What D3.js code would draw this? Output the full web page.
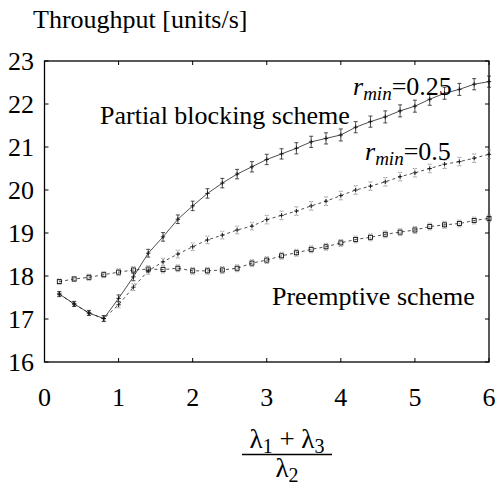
<!DOCTYPE html>
<html>
<head>
<meta charset="utf-8">
<script src="https://cdn.jsdelivr.net/npm/d3@7"></script>
<style>
  html, body { margin: 0; padding: 0; background: #fff; }
  svg { display: block; }
</style>
</head>
<body>
<svg id="chart" width="501" height="489"></svg>
<script>
// Offered load (λ1 + λ3) / λ2
const loads = [0.2, 0.4, 0.6, 0.8, 1.0, 1.2, 1.4, 1.6, 1.8, 2.0,
               2.2, 2.4, 2.6, 2.8, 3.0, 3.2, 3.4, 3.6, 3.8, 4.0,
               4.2, 4.4, 4.6, 4.8, 5.0, 5.2, 5.4, 5.6, 5.8, 6.0];

// Partial blocking scheme, r_min = 0.25 (units/s)
const partial025 = [17.58, 17.35, 17.14, 17.01, 17.48, 17.98, 18.53, 18.91, 19.32, 19.63,
                    19.92, 20.16, 20.37, 20.54, 20.71, 20.84, 20.97, 21.12, 21.20, 21.28,
                    21.46, 21.59, 21.70, 21.84, 21.95, 22.11, 22.25, 22.34, 22.46, 22.52];
const partial025Err = [0.06, 0.06, 0.06, 0.07, 0.08, 0.09, 0.09, 0.10, 0.10, 0.11,
                       0.11, 0.11, 0.11, 0.12, 0.12, 0.12, 0.13, 0.13, 0.13, 0.14,
                       0.13, 0.13, 0.14, 0.14, 0.14, 0.14, 0.14, 0.14, 0.13, 0.13];

// Partial blocking scheme, r_min = 0.5 (units/s)
const partial05 = [17.58, 17.35, 17.14, 17.01, 17.33, 17.74, 18.12, 18.33, 18.51, 18.68,
                   18.84, 18.95, 19.07, 19.16, 19.31, 19.41, 19.51, 19.63, 19.74, 19.87,
                   20.00, 20.09, 20.19, 20.31, 20.40, 20.50, 20.60, 20.66, 20.74, 20.83];
const partial05Err = [0.05, 0.05, 0.05, 0.06, 0.07, 0.08, 0.08, 0.08, 0.09, 0.09,
                      0.09, 0.09, 0.09, 0.09, 0.10, 0.10, 0.10, 0.10, 0.10, 0.10,
                      0.10, 0.10, 0.10, 0.10, 0.10, 0.10, 0.10, 0.10, 0.10, 0.10];

// Preemptive scheme (units/s)
const preemptive = [17.87, 17.93, 17.97, 18.03, 18.09, 18.14, 18.16, 18.15, 18.18, 18.12,
                    18.12, 18.14, 18.18, 18.30, 18.37, 18.47, 18.54, 18.62, 18.68, 18.77,
                    18.85, 18.90, 18.97, 19.02, 19.07, 19.15, 19.19, 19.22, 19.29, 19.34];
const preemptiveErr = [0.06, 0.06, 0.07, 0.07, 0.08, 0.08, 0.08, 0.08, 0.08, 0.08,
                       0.08, 0.08, 0.08, 0.08, 0.08, 0.08, 0.08, 0.08, 0.08, 0.08,
                       0.08, 0.08, 0.08, 0.08, 0.08, 0.08, 0.08, 0.08, 0.08, 0.08];

const xTicks = [0, 1, 2, 3, 4, 5, 6];
const yTicks = [16, 17, 18, 19, 20, 21, 22, 23];

const SERIF = '"Liberation Serif", "Times New Roman", serif';
const FS = 26;

const svg = d3.select("#chart");
const plotLeft = 44.5, plotRight = 489, plotTop = 61, plotBottom = 362;

const x = d3.scaleLinear().domain([0, 6]).range([plotLeft, plotRight]);
const y = d3.scaleLinear().domain([16, 23]).range([plotBottom, plotTop]);

function serifText(sel) {
  return sel.style("font-family", SERIF, "important");
}

function addText(parent, size) {
  return serifText(parent.append("text"))
    .attr("font-size", size)
    .attr("fill", "#000");
}

// Title above the y axis
addText(svg, FS).attr("x", 33).attr("y", 28).text("Throughput [units/s]");

// Tick marks on all four sides, pointing inward
const tickLen = 4;
const axisG = svg.append("g").attr("stroke", "#000").attr("stroke-width", 1);
xTicks.forEach(t => {
  axisG.append("line").attr("x1", x(t)).attr("x2", x(t)).attr("y1", plotBottom).attr("y2", plotBottom - tickLen);
  axisG.append("line").attr("x1", x(t)).attr("x2", x(t)).attr("y1", plotTop).attr("y2", plotTop + tickLen);
});
yTicks.forEach(t => {
  axisG.append("line").attr("x1", plotLeft).attr("x2", plotLeft + tickLen).attr("y1", y(t)).attr("y2", y(t));
  axisG.append("line").attr("x1", plotRight).attr("x2", plotRight - tickLen).attr("y1", y(t)).attr("y2", y(t));
});

// Tick labels
serifText(svg.append("g").selectAll("text").data(xTicks).join("text"))
  .attr("x", d => x(d)).attr("y", 406)
  .attr("text-anchor", "middle")
  .attr("font-size", FS)
  .text(d => d);
serifText(svg.append("g").selectAll("text").data(yTicks).join("text"))
  .attr("x", 34).attr("y", d => y(d) + 9)
  .attr("text-anchor", "end")
  .attr("font-size", FS)
  .text(d => d);

// Frame
svg.append("rect")
  .attr("x", plotLeft).attr("y", plotTop)
  .attr("width", plotRight - plotLeft).attr("height", plotBottom - plotTop)
  .attr("fill", "none").attr("stroke", "#000").attr("stroke-width", 1.3);

// Series: error bars, connecting line, markers
const line = d3.line().x(d => x(d.x)).y(d => y(d.y));

function drawSeries(vals, errs, opts) {
  const pts = loads.map((l, i) => ({ x: l, y: vals[i], e: errs[i] }));
  const g = svg.append("g");
  const eb = g.append("g")
    .attr("stroke", opts.errColor)
    .attr("stroke-width", 0.8)
    .attr("stroke-dasharray", opts.errDash || null);
  pts.forEach(p => {
    const cx = x(p.x), y1 = y(p.y - p.e), y2 = y(p.y + p.e);
    eb.append("line").attr("x1", cx).attr("x2", cx).attr("y1", y1).attr("y2", y2);
    eb.append("line").attr("x1", cx - 2).attr("x2", cx + 2).attr("y1", y1).attr("y2", y1);
    eb.append("line").attr("x1", cx - 2).attr("x2", cx + 2).attr("y1", y2).attr("y2", y2);
  });
  g.append("path").datum(pts)
    .attr("d", line)
    .attr("fill", "none")
    .attr("stroke", "#222")
    .attr("stroke-width", 0.8)
    .attr("stroke-dasharray", opts.dash || null);
  const mk = g.append("g").attr("stroke", "#111").attr("stroke-width", 0.9).attr("fill", "none");
  pts.forEach(p => {
    const cx = x(p.x), cy = y(p.y);
    if (opts.marker === "square") {
      mk.append("rect").attr("x", cx - 2).attr("y", cy - 2).attr("width", 4).attr("height", 4);
    } else {
      mk.append("line").attr("x1", cx - 2.2).attr("x2", cx + 2.2).attr("y1", cy).attr("y2", cy);
      mk.append("line").attr("x1", cx).attr("x2", cx).attr("y1", cy - 2.2).attr("y2", cy + 2.2);
    }
  });
}

drawSeries(preemptive, preemptiveErr, { dash: "3,3", marker: "square", errColor: "#888", errDash: "1.5,1" });
drawSeries(partial05, partial05Err, { dash: "3,3", marker: "plus", errColor: "#888", errDash: "1.5,1" });
drawSeries(partial025, partial025Err, { dash: null, marker: "plus", errColor: "#222" });

// Annotations
addText(svg, FS).attr("x", 100).attr("y", 124).text("Partial blocking scheme");
addText(svg, FS).attr("x", 272).attr("y", 305).text("Preemptive scheme");

function rminLabel(xPos, yPos, value) {
  const t = addText(svg, FS).attr("x", xPos).attr("y", yPos);
  t.append("tspan").attr("font-style", "italic").text("r");
  t.append("tspan").attr("font-style", "italic").attr("font-size", 19).attr("dy", 5).text("min");
  t.append("tspan").attr("dy", -5).text("=" + value);
}
rminLabel(353, 95, "0.25");
rminLabel(365, 160, "0.5");

// x-axis label: (λ1 + λ3) / λ2
const fx = 287;
const num = addText(svg, 27).attr("x", fx).attr("y", 448).attr("text-anchor", "middle");
num.append("tspan").text("λ");
num.append("tspan").attr("font-size", 20).attr("dy", 5).text("1");
num.append("tspan").attr("dy", -5).text(" + λ");
num.append("tspan").attr("font-size", 20).attr("dy", 5).text("3");
svg.append("line")
  .attr("x1", 242).attr("x2", 332).attr("y1", 454.5).attr("y2", 454.5)
  .attr("stroke", "#000").attr("stroke-width", 1.3);
const den = addText(svg, 27).attr("x", fx).attr("y", 477).attr("text-anchor", "middle");
den.append("tspan").text("λ");
den.append("tspan").attr("font-size", 20).attr("dy", 5).text("2");
</script>
</body>
</html>
